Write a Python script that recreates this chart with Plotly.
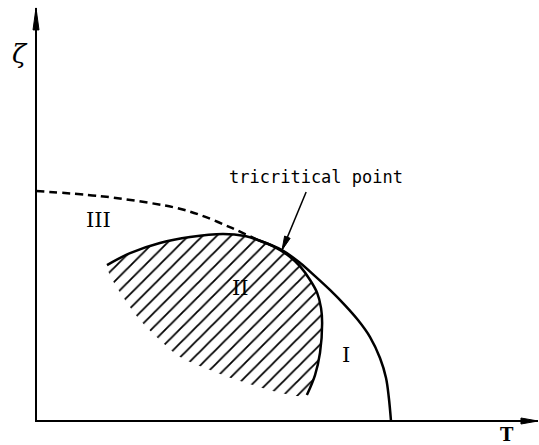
import numpy as np
import plotly.graph_objects as go

# Phase diagram in reduced units: T along x, zeta along y
# first-order line (dashed) from the zeta axis to the tricritical point
dashed_T = [0.000, 0.180, 0.321, 0.397, 0.462, 0.546, 0.625]
dashed_Z = [1.000, 0.978, 0.948, 0.926, 0.896, 0.843, 0.787]

# second-order line from the tricritical point down to the T axis
outer_T = [0.625, 0.693, 0.744, 0.786, 0.828, 0.870, 0.907, 0.941, 0.969, 0.986, 0.994, 1.000]
outer_Z = [0.787, 0.743, 0.687, 0.630, 0.570, 0.504, 0.439, 0.365, 0.274, 0.187, 0.100, 0.000]

# drawn boundary of region II
edge_T = [0.200, 0.265, 0.349, 0.434, 0.527, 0.589, 0.625, 0.673, 0.715, 0.744,
          0.772, 0.792, 0.803, 0.806, 0.800, 0.786, 0.763]
edge_Z = [0.678, 0.730, 0.774, 0.800, 0.813, 0.804, 0.787, 0.756, 0.714, 0.672,
          0.613, 0.557, 0.491, 0.426, 0.296, 0.200, 0.113]

# open lower-left limit of the hatching
rim_T = [0.735, 0.679, 0.575, 0.490, 0.406, 0.349, 0.293, 0.251, 0.208]
rim_Z = [0.109, 0.126, 0.174, 0.222, 0.278, 0.352, 0.439, 0.526, 0.635]

# region labels: (text, T, zeta)
region_labels = [("III", 0.175, 0.874), ("II", 0.575, 0.578), ("I", 0.873, 0.287)]

# axis extents
T_tip = 1.414
Z_tip = 1.796

W, H = 539, 445
x_range = [-0.1014, 1.4169]
y_range = [-0.1043, 1.8304]
sx = W / (x_range[1] - x_range[0])
sy = H / (y_range[1] - y_range[0])


def arrowhead(tip, tail, length, half_width):
    """Filled narrow arrowhead at `tip`, pointing away from `tail` (data units)."""
    tx, ty = tip[0] * sx, tip[1] * sy
    bx, by = tail[0] * sx, tail[1] * sy
    d = np.array([tx - bx, ty - by])
    u = d / np.linalg.norm(d)
    n = np.array([-u[1], u[0]])
    base = np.array([tx, ty]) - u * length
    p1 = base + n * half_width
    p2 = base - n * half_width
    xs = [tx / sx, p1[0] / sx, p2[0] / sx, tx / sx]
    ys = [ty / sy, p1[1] / sy, p2[1] / sy, ty / sy]
    return go.Scatter(x=xs, y=ys, mode="lines", fill="toself", fillcolor="black",
                      line=dict(color="black", width=1), hoverinfo="skip",
                      showlegend=False)


fig = go.Figure()

# hatched region II
fig.add_trace(go.Scatter(
    x=edge_T + rim_T + [edge_T[0]], y=edge_Z + rim_Z + [edge_Z[0]],
    mode="lines", fill="toself", line=dict(width=0, color="rgba(0,0,0,0)", shape="spline"),
    fillcolor="white",
    fillpattern=dict(shape="/", size=10, solidity=0.18, fgcolor="black",
                     fgopacity=1, bgcolor="white"),
    hoverinfo="skip", showlegend=False))

# boundary of II
fig.add_trace(go.Scatter(x=edge_T, y=edge_Z, mode="lines",
                         line=dict(color="black", width=2.5, shape="spline"),
                         hoverinfo="skip", showlegend=False))

# dashed first-order line
fig.add_trace(go.Scatter(x=dashed_T, y=dashed_Z, mode="lines",
                         line=dict(color="black", width=2.5, dash="8px,5px", shape="spline"),
                         hoverinfo="skip", showlegend=False))

# second-order line
fig.add_trace(go.Scatter(x=outer_T, y=outer_Z, mode="lines",
                         line=dict(color="black", width=2.5, shape="spline"),
                         hoverinfo="skip", showlegend=False))

# axes
fig.add_trace(go.Scatter(x=[0, 0, T_tip], y=[Z_tip, 0, 0], mode="lines",
                         line=dict(color="black", width=2),
                         hoverinfo="skip", showlegend=False))
fig.add_trace(arrowhead((0, Z_tip), (0, 0), 22, 3))
fig.add_trace(arrowhead((T_tip, 0), (0, 0), 17, 3))

# pointer to the tricritical point
tc = (outer_T[1], outer_Z[1])
tail = (0.761, 0.996)
fig.add_trace(go.Scatter(x=[tail[0], tc[0]], y=[tail[1], tc[1]], mode="lines",
                         line=dict(color="black", width=1.5),
                         hoverinfo="skip", showlegend=False))
fig.add_trace(arrowhead(tc, tail, 14, 3))

fig.add_annotation(x=0.790, y=1.061, text="tricritical point", showarrow=False,
                   font=dict(family="DejaVu Sans Mono", size=17, color="black"))

for txt, xt, yt in region_labels:
    fig.add_annotation(x=xt, y=yt, text=txt, showarrow=False,
                       font=dict(family="DejaVu Serif", size=21, color="black"))

fig.add_annotation(x=-0.045, y=1.596, text="<i>ζ</i>", showarrow=False,
                   font=dict(family="DejaVu Serif", size=26, color="black"))
fig.add_annotation(x=1.327, y=-0.058, text="<b>T</b>", showarrow=False,
                   font=dict(family="DejaVu Serif", size=18, color="black"))

fig.update_layout(
    width=W, height=H, autosize=False,
    margin=dict(l=0, r=0, t=0, b=0),
    paper_bgcolor="white", plot_bgcolor="white",
    xaxis=dict(range=x_range, visible=False, fixedrange=True),
    yaxis=dict(range=y_range, visible=False, fixedrange=True),
)

fig.write_html("out.html")
